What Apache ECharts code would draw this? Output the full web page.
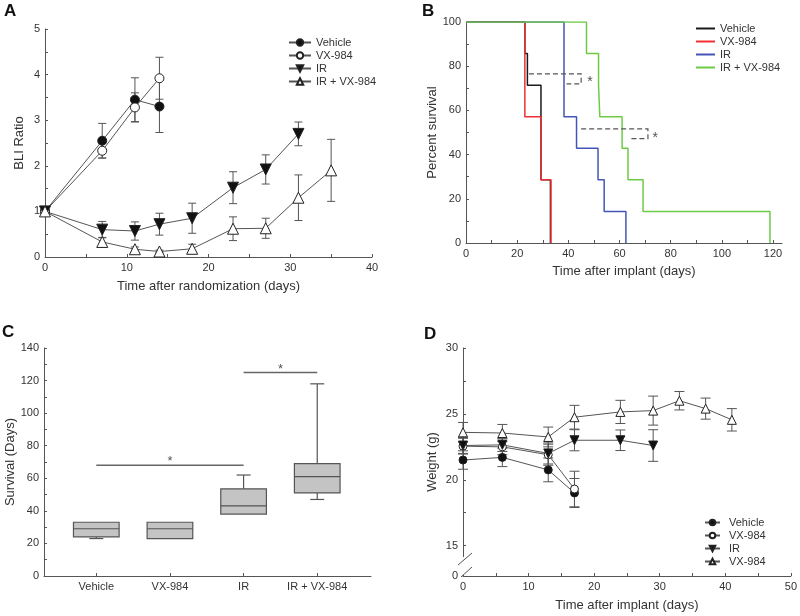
<!DOCTYPE html>
<html>
<head>
<meta charset="utf-8">
<script src="https://cdn.jsdelivr.net/npm/echarts@6/dist/echarts.min.js"></script>
<style>
  html, body { margin: 0; background: #fff; }
  #chart { width: 800px; height: 616px; }
</style>
</head>
<body>
<div id="chart"></div>
<script>
// ---- panel A : BLI ratio ----
var aVehicleX = [0, 7, 11, 14];
var aVehicleY = [1, 2.55, 3.45, 3.3];
var aVehicleErr = [0, 0.38, 0.48, 0.57];
var aVxX = [0, 7, 11, 14];
var aVxY = [1, 2.33, 3.28, 3.92];
var aVxErr = [0, 0.16, 0.32, 0.46];
var aIrX = [0, 7, 11, 14, 18, 23, 27, 31];
var aIrY = [1, 0.6, 0.57, 0.72, 0.85, 1.52, 1.92, 2.7];
var aIrErr = [0, 0.18, 0.2, 0.24, 0.33, 0.35, 0.32, 0.26];
var aComboX = [0, 7, 11, 14, 18, 23, 27, 31, 35];
var aComboY = [1, 0.33, 0.17, 0.12, 0.18, 0.62, 0.63, 1.3, 1.9];
var aComboErr = [0, 0.1, 0.05, 0.03, 0.1, 0.26, 0.22, 0.5, 0.68];
var aXLabels = [0, 10, 20, 30, 40];
var aXTicks = [0, 5, 10, 15, 20, 25, 30, 35, 40];
var aYLabels = [0, 1, 2, 3, 4, 5];
var aYTicks = [0, 0.5, 1, 1.5, 2, 2.5, 3, 3.5, 4, 4.5, 5];

// ---- panel B : Kaplan-Meier (event time, survival after event) ----
var bVehicleT = [0, 23, 24, 29.3, 29.3, 33];
var bVehicleS = [100, 85.7, 71.4, 57.1, 28.6, 0];
var bVxT = [0, 23, 29.3, 33.2];
var bVxS = [100, 57.1, 28.6, 0];
var bIrT = [0, 38.3, 43.2, 51.6, 54, 62.5];
var bIrS = [100, 57.1, 42.9, 28.6, 14.3, 0];
var bComboT = [0, 47.1, 51.8, 52.3, 61, 63.3, 69.2, 118.8];
var bComboS = [100, 85.7, 71.4, 57.1, 42.9, 28.6, 14.3, 0];
// brackets: [xStart, xEnd, yTop, yBottom, xBottomStart]
var bBrackets = [[24.6, 45, 76.5, 72, 39.3], [45, 71.1, 51.6, 47.2, 63.7]];
var bStars = [[48.5, 74], [74, 49]];
var bXLabels = [0, 20, 40, 60, 80, 100, 120];
var bXTicks = [0, 10, 20, 30, 40, 50, 60, 70, 80, 90, 100, 110, 120];
var bYLabels = [0, 20, 40, 60, 80, 100];
var bYTicks = [0, 10, 20, 30, 40, 50, 60, 70, 80, 90, 100];

// ---- panel C : survival box plot [min, q1, median, q3, max] ----
var cGroups = ['Vehicle', 'VX-984', 'IR', 'IR + VX-984'];
var cStats = [
  [23, 24, 29, 33, 33],
  [23, 23, 29, 33, 33],
  [38, 38, 43, 53.5, 62],
  [47, 51, 61, 69, 118]
];
// significance bars: [fromGroup, toGroup, level]
var cSig = [[1, 3, 68], [3, 4, 125]];
var cYLabels = [0, 20, 40, 60, 80, 100, 120, 140];
var cYTicks = [0, 10, 20, 30, 40, 50, 60, 70, 80, 90, 100, 110, 120, 130, 140];

// ---- panel D : weight ----
var dVehicleX = [0, 6, 13, 17];
var dVehicleY = [21.5, 21.7, 20.75, 19.0];
var dVehicleErr = [0.7, 0.7, 0.9, 1.1];
var dVxX = [0, 6, 13, 17];
var dVxY = [22.55, 22.5, 21.9, 19.3];
var dVxErr = [0.6, 0.6, 0.8, 1.35];
var dIrX = [0, 6, 13, 17, 24, 29];
var dIrY = [22.6, 22.65, 22.0, 23.0, 23.0, 22.6];
var dIrErr = [0.6, 0.5, 0.8, 0.8, 0.78, 1.2];
var dComboX = [0, 6, 13, 17, 24, 29, 33, 37, 41];
var dComboY = [23.6, 23.55, 23.25, 24.75, 25.15, 25.25, 26.0, 25.4, 24.55];
var dComboErr = [0.75, 0.65, 0.75, 0.9, 0.88, 1.1, 0.7, 0.8, 0.85];
var dXLabels = [0, 10, 20, 30, 40, 50];
var dXTicks = [0, 5, 10, 15, 20, 25, 30, 35, 40, 45, 50];
var dYBreak = 12.7; // bottom of broken axis, labelled 0
var dYLabels = [dYBreak, 15, 20, 25, 30];
var dYTicks = [15, 17.5, 20, 22.5, 25, 27.5, 30];

var FONT = '"Liberation Sans", Arial, sans-serif';
var AXIS = '#555';
var TXT = '#333';

function pairs(xs, ys) {
  return xs.map(function (x, i) { return [x, ys[i]]; });
}

function valueAxis(gi, min, max, labels, ticks, extra) {
  var ax = {
    type: 'value', gridIndex: gi, min: min, max: max,
    axisLine: { show: true, lineStyle: { color: AXIS, width: 1 } },
    axisTick: { show: true, inside: true, length: 3, customValues: ticks, lineStyle: { color: AXIS } },
    axisLabel: { customValues: labels, color: TXT, fontSize: 11, fontFamily: FONT, margin: 5 },
    splitLine: { show: false },
    nameLocation: 'middle',
    nameTextStyle: { color: TXT, fontSize: 13, fontFamily: FONT }
  };
  for (var k in extra) ax[k] = extra[k];
  return ax;
}

function errBars(gi, xs, ys, es, cap) {
  return {
    type: 'custom', xAxisIndex: gi, yAxisIndex: gi, silent: true, z: 1,
    data: xs.map(function (x, i) { return [x, ys[i], es[i]]; }),
    encode: { x: 0, y: 1 },
    renderItem: function (params, api) {
      var x = api.value(0), y = api.value(1), e = api.value(2);
      if (!e) return;
      var t = api.coord([x, y + e]), b = api.coord([x, y - e]);
      var st = { stroke: AXIS, lineWidth: 1 };
      return {
        type: 'group', children: [
          { type: 'line', shape: { x1: t[0], y1: t[1], x2: b[0], y2: b[1] }, style: st },
          { type: 'line', shape: { x1: t[0] - cap, y1: t[1], x2: t[0] + cap, y2: t[1] }, style: st },
          { type: 'line', shape: { x1: b[0] - cap, y1: b[1], x2: b[0] + cap, y2: b[1] }, style: st }
        ]
      };
    }
  };
}

function markerLine(gi, name, xs, ys, sym, size, fill, rot) {
  return {
    name: name, type: 'line', xAxisIndex: gi, yAxisIndex: gi, z: 3,
    data: pairs(xs, ys), symbol: sym, symbolSize: size, symbolRotate: rot || 0,
    showSymbol: true,
    lineStyle: { color: AXIS, width: 1 },
    itemStyle: { color: fill, borderColor: '#222', borderWidth: 1 }
  };
}

function kmLine(name, ts, ss, color) {
  return {
    name: name, type: 'line', xAxisIndex: 1, yAxisIndex: 1, step: 'end',
    data: pairs(ts, ss), symbol: 'none',
    lineStyle: { color: color, width: 1.5 }, itemStyle: { color: color }
  };
}

var series = [
  // A
  errBars(0, aVehicleX, aVehicleY, aVehicleErr, 4),
  errBars(0, aVxX, aVxY, aVxErr, 4),
  errBars(0, aIrX, aIrY, aIrErr, 4),
  errBars(0, aComboX, aComboY, aComboErr, 4),
  markerLine(0, 'Vehicle', aVehicleX, aVehicleY, 'circle', 9, '#111'),
  markerLine(0, 'VX-984', aVxX, aVxY, 'circle', 9, '#fff'),
  markerLine(0, 'IR', aIrX, aIrY, 'triangle', 11, '#111', 180),
  markerLine(0, 'IR + VX-984', aComboX, aComboY, 'triangle', 11, '#fff'),
  // B
  kmLine('Vehicle ', bVehicleT, bVehicleS, '#1a1a1a'),
  kmLine('VX-984 ', bVxT, bVxS, '#f03030'),
  kmLine('IR ', bIrT, bIrS, '#4455b5'),
  kmLine('IR + VX-984 ', bComboT, bComboS, '#6ccb45'),
  {
    type: 'custom', xAxisIndex: 1, yAxisIndex: 1, silent: true, z: 4,
    data: bBrackets,
    renderItem: function (params, api) {
      var a = api.coord([api.value(0), api.value(2)]);
      var b = api.coord([api.value(1), api.value(2)]);
      var c = api.coord([api.value(1), api.value(3)]);
      var d = api.coord([api.value(4), api.value(3)]);
      return {
        type: 'polyline', shape: { points: [a, b, c, d] },
        style: { stroke: '#555', lineWidth: 1.2, fill: null, lineDash: [5, 3] }
      };
    }
  },
  {
    type: 'custom', xAxisIndex: 1, yAxisIndex: 1, silent: true, z: 4,
    data: bStars,
    renderItem: function (params, api) {
      var p = api.coord([api.value(0), api.value(1)]);
      return {
        type: 'text', x: p[0], y: p[1] + 3,
        style: { text: '*', fill: '#555', font: '14px ' + FONT, align: 'center', verticalAlign: 'middle' }
      };
    }
  },
  // C
  {
    type: 'custom', xAxisIndex: 2, yAxisIndex: 2, silent: true,
    data: cStats.map(function (s, i) { return [i + 1].concat(s); }),
    encode: { x: 0, y: [1, 2, 3, 4, 5] },
    renderItem: function (params, api) {
      var x = api.value(0);
      var half = api.size([0.62, 0])[0] / 2;
      var cap = 7;
      var pmin = api.coord([x, api.value(1)]), pq1 = api.coord([x, api.value(2)]);
      var pmed = api.coord([x, api.value(3)]), pq3 = api.coord([x, api.value(4)]);
      var pmax = api.coord([x, api.value(5)]);
      var st = { stroke: '#555', lineWidth: 1.2 };
      var kids = [];
      if (api.value(5) > api.value(4)) {
        kids.push({ type: 'line', shape: { x1: pq3[0], y1: pq3[1], x2: pmax[0], y2: pmax[1] }, style: st });
        kids.push({ type: 'line', shape: { x1: pmax[0] - cap, y1: pmax[1], x2: pmax[0] + cap, y2: pmax[1] }, style: st });
      }
      if (api.value(1) < api.value(2)) {
        kids.push({ type: 'line', shape: { x1: pq1[0], y1: pq1[1], x2: pmin[0], y2: pmin[1] }, style: st });
        kids.push({ type: 'line', shape: { x1: pmin[0] - cap, y1: pmin[1], x2: pmin[0] + cap, y2: pmin[1] }, style: st });
      }
      kids.push({
        type: 'rect', shape: { x: pq3[0] - half, y: pq3[1], width: half * 2, height: pq1[1] - pq3[1] },
        style: { fill: '#c4c4c4', stroke: '#555', lineWidth: 1.2 }
      });
      kids.push({ type: 'line', shape: { x1: pmed[0] - half, y1: pmed[1], x2: pmed[0] + half, y2: pmed[1] }, style: st });
      return { type: 'group', children: kids };
    }
  },
  {
    type: 'custom', xAxisIndex: 2, yAxisIndex: 2, silent: true,
    data: cSig,
    renderItem: function (params, api) {
      var a = api.coord([api.value(0), api.value(2)]);
      var b = api.coord([api.value(1), api.value(2)]);
      return {
        type: 'group', children: [
          { type: 'line', shape: { x1: a[0], y1: a[1], x2: b[0], y2: b[1] }, style: { stroke: '#666', lineWidth: 1.5 } },
          {
            type: 'text', x: (a[0] + b[0]) / 2, y: a[1] + 3,
            style: { text: '*', fill: '#555', font: '13px ' + FONT, align: 'center', verticalAlign: 'bottom' }
          }
        ]
      };
    }
  },
  // D
  errBars(3, dVehicleX, dVehicleY, dVehicleErr, 5),
  errBars(3, dVxX, dVxY, dVxErr, 5),
  errBars(3, dIrX, dIrY, dIrErr, 5),
  errBars(3, dComboX, dComboY, dComboErr, 5),
  markerLine(3, 'Vehicle  ', dVehicleX, dVehicleY, 'circle', 8, '#111'),
  markerLine(3, 'VX-984  ', dVxX, dVxY, 'circle', 8, '#fff'),
  markerLine(3, 'IR  ', dIrX, dIrY, 'triangle', 9, '#111', 180),
  markerLine(3, 'VX-984   ', dComboX, dComboY, 'triangle', 9, '#fff')
];

function legendAt(names, left, top, w, h, textPad, icon) {
  var lg = {
    data: names, orient: 'vertical', left: left, top: top, padding: 0,
    itemWidth: w, itemHeight: h, itemGap: 12 - Math.max(h, 10), selectedMode: false,
    formatter: function (n) { return n.trim(); },
    textStyle: { color: TXT, fontSize: 11, fontFamily: FONT, lineHeight: 10, padding: [0, 0, 0, textPad] }
  };
  if (icon) lg.icon = icon;
  return lg;
}

var chart = echarts.init(document.getElementById('chart'));
chart.setOption({
  animation: false,
  backgroundColor: '#fff',
  title: [
    { text: 'A', left: 4, top: 3 },
    { text: 'B', left: 422, top: 3 },
    { text: 'C', left: 2, top: 324 },
    { text: 'D', left: 424, top: 326 }
  ].map(function (t) {
    t.padding = 0;
    t.textStyle = { fontSize: 17, fontWeight: 'bold', color: '#111', fontFamily: FONT };
    return t;
  }),
  legend: [
    legendAt(['Vehicle', 'VX-984', 'IR', 'IR + VX-984'], 288, 37, 22, 8, 0),
    legendAt(['Vehicle ', 'VX-984 ', 'IR ', 'IR + VX-984 '], 696, 23, 19, 2, 0, 'rect'),
    legendAt(['Vehicle  ', 'VX-984  ', 'IR  ', 'VX-984   '], 704, 517, 15, 7, 4)
  ],
  grid: [
    { left: 45, top: 29, width: 327, height: 228 },
    { left: 466, top: 22, width: 316, height: 221 },
    { left: 44, top: 348, width: 327, height: 228 },
    { left: 463, top: 348, width: 330, height: 228 }
  ],
  xAxis: [
    valueAxis(0, 0, 40, aXLabels, aXTicks, { name: 'Time after randomization (days)', nameGap: 23 }),
    valueAxis(1, 0, 123.5, bXLabels, bXTicks, { name: 'Time after implant (days)', nameGap: 22 }),
    valueAxis(2, 0.29, 4.73, [1, 2, 3, 4], [1, 2, 3, 4], {}),
    valueAxis(3, 0, 50, dXLabels, dXTicks, { name: 'Time after implant (days)', nameGap: 23 })
  ],
  yAxis: [
    valueAxis(0, 0, 5, aYLabels, aYTicks, { name: 'BLI Ratio', nameGap: 19 }),
    valueAxis(1, 0, 100, bYLabels, bYTicks, { name: 'Percent survival', nameGap: 26 }),
    valueAxis(2, 0, 140, cYLabels, cYTicks, { name: 'Survival (Days)', nameGap: 23 }),
    valueAxis(3, dYBreak, 30, dYLabels, dYTicks, { name: 'Weight (g)', nameGap: 24 })
  ],
  series: series,
  graphic: [
    // broken y axis in panel D
    { type: 'rect', shape: { x: 460, y: 557, width: 7, height: 18 }, style: { fill: '#fff' }, z: 100 },
    { type: 'line', shape: { x1: 458, y1: 565, x2: 472, y2: 553 }, style: { stroke: AXIS, lineWidth: 1 }, z: 101 },
    { type: 'line', shape: { x1: 461, y1: 577, x2: 472, y2: 567 }, style: { stroke: AXIS, lineWidth: 1 }, z: 101 }
  ]
});

// C category labels and D broken-axis zero label
chart.setOption({
  xAxis: [{}, {}, { axisLabel: { formatter: function (v) { return cGroups[Math.round(v) - 1]; } } }, {}],
  yAxis: [{}, {}, {}, { axisLabel: { formatter: function (v) { return v < 14 ? '0' : v; } } }]
});
</script>
</body>
</html>
